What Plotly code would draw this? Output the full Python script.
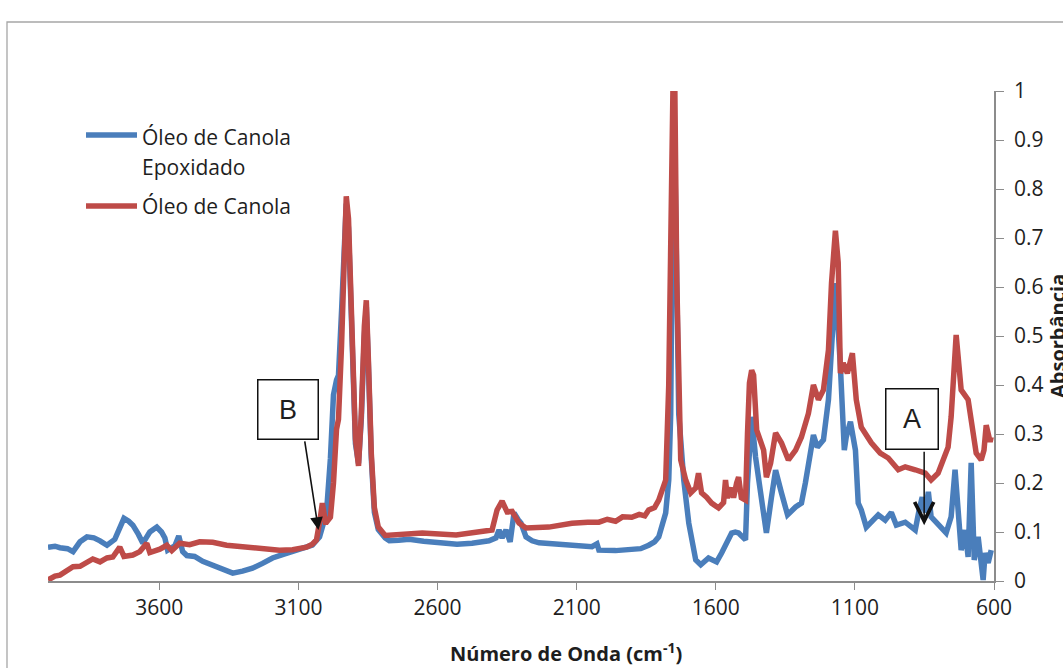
import plotly.graph_objects as go

# FTIR spectra: wavenumber (cm-1) and absorbance
wn_epox = [4000, 3975, 3957, 3930, 3910, 3885, 3860, 3835, 3813, 3788, 3760, 3740, 3727, 3710,
           3695, 3675, 3659, 3645, 3634, 3609, 3592, 3580, 3570, 3555, 3544, 3530, 3522, 3516,
           3501, 3473, 3444, 3420, 3401, 3365, 3336, 3301, 3265, 3229, 3193, 3157, 3121, 3085,
           3050, 3024, 2999, 2985, 2974, 2963, 2956, 2945, 2935, 2928, 2920, 2906, 2895, 2884,
           2874, 2863, 2856, 2849, 2838, 2827, 2813, 2788, 2773, 2740, 2702, 2650, 2594, 2530,
           2476, 2415, 2390, 2379, 2368, 2354, 2339, 2325, 2310, 2300, 2282, 2260, 2235, 2180,
           2117, 2075, 2045, 2027, 2020, 1960, 1902, 1870, 1841, 1820, 1805, 1780, 1769, 1762,
           1758, 1751, 1740, 1733, 1715, 1697, 1672, 1654, 1626, 1597, 1579, 1560, 1543, 1530,
           1518, 1493, 1486, 1471, 1457, 1435, 1418, 1400, 1385, 1364, 1342, 1313, 1292, 1278,
           1267, 1249, 1235, 1213, 1195, 1184, 1170, 1152, 1138, 1131, 1116, 1098, 1088, 1077,
           1059, 1016, 991, 969, 951, 919, 883, 869, 858, 847, 836, 826, 801, 772, 754, 740,
           718, 704, 693, 682, 671, 657, 639, 632, 621, 610]
abs_epox = [0.069, 0.071, 0.068, 0.066, 0.060, 0.080, 0.090, 0.088, 0.082, 0.073, 0.085, 0.110,
            0.128, 0.122, 0.114, 0.095, 0.077, 0.090, 0.100, 0.110, 0.100, 0.088, 0.063, 0.068,
            0.072, 0.092, 0.070, 0.060, 0.052, 0.050, 0.040, 0.034, 0.030, 0.022, 0.016, 0.020,
            0.026, 0.036, 0.047, 0.054, 0.060, 0.066, 0.073, 0.090, 0.140, 0.250, 0.380, 0.410,
            0.420, 0.550, 0.720, 0.770, 0.720, 0.450, 0.280, 0.240, 0.330, 0.500, 0.560, 0.450,
            0.250, 0.140, 0.105, 0.088, 0.082, 0.083, 0.085, 0.081, 0.078, 0.075, 0.077, 0.082,
            0.088, 0.104, 0.088, 0.104, 0.080, 0.139, 0.125, 0.118, 0.090, 0.082, 0.078, 0.076,
            0.073, 0.072, 0.070, 0.076, 0.063, 0.062, 0.063, 0.066, 0.073, 0.080, 0.090, 0.139,
            0.206, 0.340, 0.610, 1.000, 0.610, 0.340, 0.206, 0.118, 0.043, 0.033, 0.047, 0.039,
            0.057, 0.080, 0.098, 0.100, 0.098, 0.084, 0.200, 0.335, 0.253, 0.165, 0.098, 0.170,
            0.226, 0.180, 0.135, 0.151, 0.159, 0.200, 0.233, 0.298, 0.273, 0.288, 0.370, 0.471,
            0.608, 0.437, 0.267, 0.294, 0.325, 0.267, 0.159, 0.145, 0.110, 0.135, 0.124, 0.140,
            0.114, 0.120, 0.104, 0.145, 0.171, 0.140, 0.182, 0.131, 0.114, 0.098, 0.131, 0.227,
            0.063, 0.104, 0.049, 0.241, 0.043, 0.090, 0.002, 0.057, 0.037, 0.063]

wn_canola = [4000, 3975, 3957, 3932, 3910, 3885, 3860, 3839, 3813, 3788, 3767, 3742, 3727, 3695,
             3670, 3645, 3634, 3598, 3573, 3555, 3527, 3491, 3455, 3408, 3358, 3311, 3265, 3215,
             3168, 3121, 3071, 3050, 3035, 3021, 3014, 3003, 2999, 2985, 2974, 2963, 2956, 2945,
             2935, 2928, 2920, 2906, 2895, 2884, 2874, 2863, 2856, 2849, 2838, 2827, 2813, 2788,
             2740, 2655, 2533, 2404, 2386, 2368, 2350, 2339, 2332, 2307, 2282, 2200, 2117, 2060,
             2020, 1990, 1960, 1935, 1902, 1875, 1855, 1841, 1820, 1805, 1780, 1769, 1762, 1754,
             1747, 1740, 1726, 1708, 1690, 1672, 1662, 1651, 1633, 1615, 1590, 1572, 1565, 1558,
             1543, 1536, 1525, 1518, 1508, 1493, 1486, 1479, 1471, 1464, 1453, 1428, 1418, 1403,
             1385, 1364, 1339, 1313, 1292, 1267, 1249, 1231, 1213, 1195, 1184, 1170, 1160, 1152,
             1142, 1127, 1109, 1095, 1077, 1041, 1009, 980, 944, 919, 883, 847, 826, 801, 765,
             754, 736, 718, 693, 682, 664, 646, 636, 628, 614, 610]
abs_canola = [0.002, 0.010, 0.012, 0.022, 0.029, 0.030, 0.039, 0.045, 0.039, 0.047, 0.049, 0.069,
              0.050, 0.053, 0.060, 0.077, 0.058, 0.065, 0.073, 0.062, 0.077, 0.074, 0.080, 0.079,
              0.073, 0.070, 0.067, 0.066, 0.063, 0.064, 0.069, 0.075, 0.084, 0.130, 0.159, 0.120,
              0.120, 0.130, 0.200, 0.310, 0.330, 0.480, 0.700, 0.785, 0.740, 0.460, 0.290, 0.235,
              0.340, 0.520, 0.573, 0.460, 0.260, 0.150, 0.110, 0.093, 0.094, 0.098, 0.094, 0.104,
              0.145, 0.163, 0.141, 0.140, 0.142, 0.118, 0.108, 0.110, 0.118, 0.120, 0.120, 0.126,
              0.122, 0.131, 0.130, 0.136, 0.133, 0.145, 0.150, 0.165, 0.206, 0.400, 0.680, 1.000,
              1.000, 0.610, 0.247, 0.206, 0.180, 0.190, 0.220, 0.180, 0.171, 0.159, 0.149, 0.160,
              0.206, 0.170, 0.190, 0.170, 0.200, 0.212, 0.170, 0.165, 0.300, 0.404, 0.430, 0.420,
              0.308, 0.267, 0.212, 0.240, 0.302, 0.282, 0.247, 0.267, 0.294, 0.342, 0.400, 0.370,
              0.390, 0.471, 0.608, 0.715, 0.650, 0.424, 0.445, 0.424, 0.465, 0.370, 0.314, 0.282,
              0.261, 0.251, 0.227, 0.233, 0.227, 0.220, 0.206, 0.220, 0.273, 0.335, 0.502, 0.390,
              0.370, 0.330, 0.261, 0.247, 0.267, 0.318, 0.284, 0.294]

x_ticks = [3600, 3100, 2600, 2100, 1600, 1100, 600]
series_names = ["Óleo de Canola Epoxidado", "Óleo de Canola"]

BLUE = "#4A7EBB"
RED = "#BE4B48"
AXIS_GRAY = "#8c8c8c"
TEXT = "#1e1e1e"
FONT = "Open Sans"

W, H = 1063, 668
L, R, T, B = 48, 69, 91, 87
pw, ph = W - L - R, H - T - B


def px(x):
    return (x - L) / pw


def py(y):
    return (H - B - y) / ph


fig = go.Figure()
fig.add_trace(go.Scatter(x=wn_epox, y=abs_epox, mode="lines", name=series_names[0],
                         line=dict(color=BLUE, width=5.5), showlegend=False))
fig.add_trace(go.Scatter(x=wn_canola, y=abs_canola, mode="lines", name=series_names[1],
                         line=dict(color=RED, width=5.5), showlegend=False))

shapes = [
    # outer chart border
    dict(type="rect", xref="paper", yref="paper", x0=px(7), x1=px(1075), y0=py(690), y1=py(22),
         line=dict(color="#a6a6a6", width=1.3), layer="below"),
    # legend keys
    dict(type="line", xref="paper", yref="paper", x0=px(86), x1=px(137), y0=py(135), y1=py(135),
         line=dict(color=BLUE, width=5.5)),
    dict(type="line", xref="paper", yref="paper", x0=px(86), x1=px(137), y0=py(206), y1=py(206),
         line=dict(color=RED, width=5.5)),
]

annotations = [
    dict(text="Óleo de Canola", x=px(140), y=py(137), xref="paper", yref="paper",
         xanchor="left", yanchor="middle", showarrow=False, font=dict(family=FONT, size=21, color=TEXT)),
    dict(text="Epoxidado", x=px(140), y=py(167), xref="paper", yref="paper",
         xanchor="left", yanchor="middle", showarrow=False, font=dict(family=FONT, size=21, color=TEXT)),
    dict(text="Óleo de Canola", x=px(140), y=py(206), xref="paper", yref="paper",
         xanchor="left", yanchor="middle", showarrow=False, font=dict(family=FONT, size=21, color=TEXT)),
    # axis titles
    dict(text="<b>Número de Onda (cm<sup>-1</sup>)</b>", x=px(566), y=py(652), xref="paper", yref="paper",
         xanchor="center", yanchor="middle", showarrow=False, font=dict(family=FONT, size=20, color=TEXT)),
    dict(text="<b>Absorbância</b>", x=px(1057), y=0.5, xref="paper", yref="paper", textangle=-90,
         xanchor="center", yanchor="middle", showarrow=False, font=dict(family=FONT, size=20, color=TEXT)),
    # band markers
    dict(text="", x=3028, y=0.104, ax=3078, ay=0.288, xref="x", yref="y", axref="x", ayref="y",
         showarrow=True, arrowhead=2, arrowsize=1.6, arrowwidth=1.6, arrowcolor="#111111"),
    dict(text="B", x=3139, y=0.35, xref="x", yref="y", showarrow=False, width=59, height=58,
         borderpad=0, bordercolor="#111111", borderwidth=1.5, bgcolor="white",
         font=dict(family="Liberation Sans", size=27, color=TEXT)),
    dict(text="", x=851, y=0.114, ax=851, ay=0.267, xref="x", yref="y", axref="x", ayref="y",
         showarrow=True, arrowhead=5, arrowsize=2.5, arrowwidth=1.5, arrowcolor="#111111"),
    dict(text="A", x=894, y=0.331, xref="x", yref="y", showarrow=False, width=51, height=59,
         borderpad=0, bordercolor="#111111", borderwidth=1.5, bgcolor="white",
         font=dict(family="Liberation Sans", size=27, color=TEXT)),
]

fig.update_layout(
    width=W, height=H,
    margin=dict(l=L, r=R, t=T, b=B, pad=0),
    paper_bgcolor="white", plot_bgcolor="white",
    shapes=shapes, annotations=annotations,
    xaxis=dict(range=[4000, 600], tickvals=x_ticks, ticks="outside", ticklen=7, tickwidth=1.3,
               tickcolor=AXIS_GRAY, showline=True, linecolor=AXIS_GRAY, linewidth=1.5,
               showgrid=False, zeroline=False, tickfont=dict(family=FONT, size=21, color=TEXT)),
    yaxis=dict(range=[0, 1], dtick=0.1, tick0=0, side="right", ticks="outside", ticklen=8,
               tickwidth=1.3, tickcolor=AXIS_GRAY, showline=True, linecolor=AXIS_GRAY, linewidth=1.5,
               showgrid=False, zeroline=False, ticklabelstandoff=6,
               tickfont=dict(family=FONT, size=21, color=TEXT)),
)

fig.write_html("out.html")
